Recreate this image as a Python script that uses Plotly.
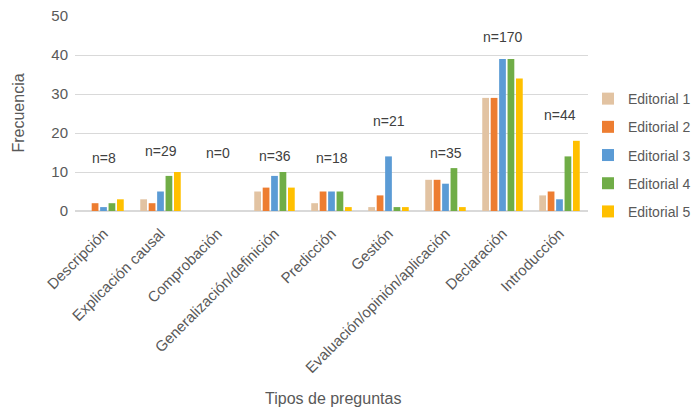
import plotly.graph_objects as go

categories = ["Descripción", "Explicación causal", "Comprobación", "Generalización/definición",
              "Predicción", "Gestión", "Evaluación/opinión/aplicación", "Declaración", "Introducción"]
series_names = ["Editorial 1", "Editorial 2", "Editorial 3", "Editorial 4", "Editorial 5"]
ed1 = [0, 3, 0, 5, 2, 1, 8, 29, 4]
ed2 = [2, 2, 0, 6, 5, 4, 8, 29, 5]
ed3 = [1, 5, 0, 9, 5, 14, 7, 39, 3]
ed4 = [2, 9, 0, 10, 5, 1, 11, 39, 14]
ed5 = [3, 10, 0, 6, 1, 1, 1, 34, 18]
n_labels = ["n=8", "n=29", "n=0", "n=36", "n=18", "n=21", "n=35", "n=170", "n=44"]
n_label_y = [13.5, 15.5, 14.8, 14.2, 13.5, 23, 15, 44.5, 24.5]
colors = ["#E2C3A2", "#ED7D31", "#5B9BD5", "#70AD47", "#FFC000"]

font = "Liberation Sans"
grey = "#595959"

fig = go.Figure()
for name, vals, c in zip(series_names, [ed1, ed2, ed3, ed4, ed5], colors):
    fig.add_trace(go.Bar(x=categories, y=vals, name=name, marker_color=c,
                         marker_line_width=0, legendgroup=name))

for cat, lab, yy in zip(categories, n_labels, n_label_y):
    fig.add_annotation(x=cat, y=yy, text=lab, showarrow=False,
                       font=dict(family=font, size=14, color="#404040"),
                       bgcolor="white")

fig.add_annotation(xref="paper", yref="paper", x=0.503, y=-0.959, text="Tipos de preguntas",
                   showarrow=False, xanchor="center", yanchor="middle",
                   font=dict(family=font, size=16, color=grey))
fig.add_annotation(xref="paper", yref="paper", x=-0.111, y=0.5, text="Frecuencia",
                   showarrow=False, xanchor="center", yanchor="middle", textangle=-90,
                   font=dict(family=font, size=16, color=grey))

fig.update_layout(
    width=699, height=412,
    margin=dict(l=75, r=111, t=16, b=201, autoexpand=False),
    plot_bgcolor="white", paper_bgcolor="white",
    barmode="group", bargap=0.26, bargroupgap=0.2,
    font=dict(family=font, color=grey),
    legend=dict(x=1.0, y=0.287, xanchor="left", yanchor="middle",
                font=dict(family=font, size=14, color=grey),
                tracegroupgap=7, itemwidth=30),
    xaxis=dict(tickangle=-45, tickfont=dict(family=font, size=15, color=grey),
               showline=False, ticks="", automargin=False, ticklabelstandoff=10),
    yaxis=dict(range=[0, 50], dtick=10, gridcolor="#D9D9D9", gridwidth=1,
               zeroline=True, zerolinecolor="#D9D9D9",
               tickfont=dict(family=font, size=15, color=grey),
               ticks="", automargin=False, ticklabelstandoff=6),
)
fig.write_html("out.html", config={"displayModeBar": False},
               post_script="document.body.style.margin='0px';")
